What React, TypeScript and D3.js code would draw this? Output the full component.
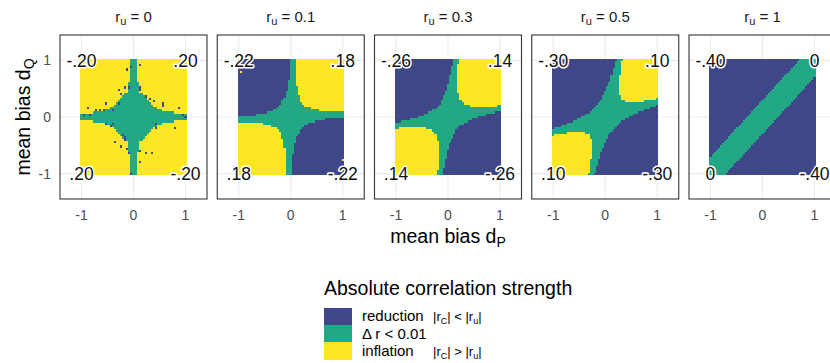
import { useEffect, useRef } from "react";
import * as d3 from "d3";

// facet values of r_u, one panel each
const ruLabels = ["0", "0.1", "0.3", "0.5", "1"];

// corner annotations: top-left, top-right, bottom-left, bottom-right
const cornerLabels = [
  ["-.20", ".20", ".20", "-.20"],
  ["-.22", ".18", ".18", "-.22"],
  ["-.26", ".14", ".14", "-.26"],
  ["-.30", ".10", ".10", "-.30"],
  ["-.40", "0", "0", "-.40"],
];

const axisTicks = [-1, 0, 1];

// tiles are 0.04 wide on a 51 x 51 grid, d_P from -1 (col 0) to 1 (col 50),
// d_Q from 1 (row 0) down to -1 (row 50).
// each entry: [how many rows, runs of columns] b = reduction, g = delta < .01, y = inflation
const rowsR0: [number, string][] = [
  [10, "24y 3g 24y"],
  [5, "23y 5g 23y"],
  [1, "21y 9g 21y"],
  [1, "20y 11g 20y"],
  [1, "19y 13g 19y"],
  [1, "18y 15g 18y"],
  [1, "17y 17g 17y"],
  [1, "16y 19g 16y"],
  [1, "14y 23g 14y"],
  [1, "12y 27g 12y"],
  [1, "6y 39g 6y"],
  [3, "51g"],
  [1, "6y 39g 6y"],
  [1, "12y 27g 12y"],
  [1, "14y 23g 14y"],
  [1, "16y 19g 16y"],
  [1, "17y 17g 17y"],
  [1, "18y 15g 18y"],
  [1, "19y 13g 19y"],
  [1, "20y 11g 20y"],
  [1, "21y 9g 21y"],
  [5, "23y 5g 23y"],
  [10, "24y 3g 24y"],
];

const rowsR01: [number, string][] = [
  [9, "25b 3g 23y"],
  [3, "24b 4g 23y"],
  [2, "24b 5g 22y"],
  [2, "23b 6g 22y"],
  [1, "23b 7g 21y"],
  [1, "22b 8g 21y"],
  [1, "21b 9g 21y"],
  [1, "21b 10g 20y"],
  [1, "20b 12g 19y"],
  [1, "19b 16g 16y"],
  [1, "17b 22g 12y"],
  [1, "14b 37g"],
  [1, "9b 42g"],
  [1, "51g"],
  [1, "42g 9b"],
  [1, "37g 14b"],
  [1, "12y 22g 17b"],
  [1, "16y 16g 19b"],
  [1, "19y 12g 20b"],
  [1, "20y 10g 21b"],
  [1, "21y 9g 21b"],
  [1, "21y 8g 22b"],
  [1, "21y 7g 23b"],
  [2, "22y 6g 23b"],
  [2, "22y 5g 24b"],
  [3, "23y 4g 24b"],
  [9, "23y 3g 25b"],
];

const rowsR03: [number, string][] = [
  [2, "28b 3g 20y"],
  [1, "28b 2g 21y"],
  [4, "27b 3g 21y"],
  [4, "26b 4g 21y"],
  [3, "25b 5g 21y"],
  [1, "24b 6g 21y"],
  [1, "24b 7g 20y"],
  [2, "23b 8g 20y"],
  [1, "22b 10g 19y"],
  [1, "22b 11g 18y"],
  [1, "21b 15g 13y 2g"],
  [1, "20b 31g"],
  [1, "18b 33g"],
  [1, "16b 32g 3b"],
  [1, "14b 30g 7b"],
  [1, "11b 29g 11b"],
  [1, "7b 30g 14b"],
  [1, "3b 32g 16b"],
  [1, "33g 18b"],
  [1, "31g 20b"],
  [1, "2g 13y 15g 21b"],
  [1, "18y 11g 22b"],
  [1, "19y 10g 22b"],
  [2, "20y 8g 23b"],
  [1, "20y 7g 24b"],
  [1, "21y 6g 24b"],
  [3, "21y 5g 25b"],
  [4, "21y 4g 26b"],
  [4, "21y 3g 27b"],
  [1, "21y 2g 28b"],
  [2, "20y 3g 28b"],
];

const rowsR05: [number, string][] = [
  [1, "31b 3g 17y"],
  [3, "30b 3g 18y"],
  [3, "29b 4g 18y"],
  [3, "28b 4g 19y"],
  [2, "27b 5g 19y"],
  [2, "26b 6g 19y"],
  [2, "25b 7g 19y"],
  [1, "24b 9g 18y"],
  [1, "24b 9g 17y 1g"],
  [1, "23b 12g 9y 7g"],
  [1, "22b 29g"],
  [1, "21b 29g 1b"],
  [1, "20b 27g 4b"],
  [1, "19b 25g 7b"],
  [1, "18b 23g 10b"],
  [1, "16b 23g 12b"],
  [1, "14b 23g 14b"],
  [1, "12b 23g 16b"],
  [1, "10b 23g 18b"],
  [1, "7b 25g 19b"],
  [1, "4b 27g 20b"],
  [1, "1b 29g 21b"],
  [1, "29g 22b"],
  [1, "7g 9y 12g 23b"],
  [1, "1g 17y 9g 24b"],
  [1, "18y 9g 24b"],
  [2, "19y 7g 25b"],
  [2, "19y 6g 26b"],
  [2, "19y 5g 27b"],
  [3, "19y 4g 28b"],
  [3, "18y 4g 29b"],
  [3, "18y 3g 30b"],
  [1, "17y 3g 31b"],
];

const rowsR1: [number, string][] = [
  [1, "43b 8g"], [1, "42b 9g"], [1, "41b 10g"], [1, "40b 11g"], [1, "39b 12g"],
  [1, "38b 13g"], [1, "37b 14g"], [1, "36b 15g"], [1, "35b 15g 1b"], [1, "34b 15g 2b"],
  [1, "33b 15g 3b"], [1, "32b 15g 4b"], [1, "31b 15g 5b"], [1, "30b 15g 6b"], [1, "29b 15g 7b"],
  [1, "28b 15g 8b"], [1, "27b 15g 9b"], [1, "26b 15g 10b"], [1, "25b 15g 11b"], [1, "24b 15g 12b"],
  [1, "23b 15g 13b"], [1, "22b 15g 14b"], [1, "21b 15g 15b"], [1, "20b 15g 16b"], [1, "19b 15g 17b"],
  [1, "18b 15g 18b"], [1, "17b 15g 19b"], [1, "16b 15g 20b"], [1, "15b 15g 21b"], [1, "14b 15g 22b"],
  [1, "13b 15g 23b"], [1, "12b 15g 24b"], [1, "11b 15g 25b"], [1, "10b 15g 26b"], [1, "9b 15g 27b"],
  [1, "8b 15g 28b"], [1, "7b 15g 29b"], [1, "6b 15g 30b"], [1, "5b 15g 31b"], [1, "4b 15g 32b"],
  [1, "3b 15g 33b"], [1, "2b 15g 34b"], [1, "1b 15g 35b"], [1, "15g 36b"], [1, "14g 37b"],
  [1, "13g 38b"], [1, "12g 39b"], [1, "11g 40b"], [1, "10g 41b"], [1, "9g 42b"],
  [1, "8g 43b"],
];

const panelRows = [rowsR0, rowsR01, rowsR03, rowsR05, rowsR1];

// single off tiles from the simulation: [panel, col, row, class]
const strayTiles: [number, number, number, string][] = [
  [0, 22, 4, "b"], [0, 24, 3, "b"], [0, 28, 2, "b"], [0, 28, 12, "b"], [0, 28, 13, "b"],
  [0, 18, 13, "b"], [0, 21, 12, "b"], [0, 23, 12, "b"], [0, 19, 15, "b"], [0, 31, 16, "b"],
  [0, 33, 17, "b"], [0, 35, 18, "b"], [0, 39, 19, "b"], [0, 39, 20, "b"], [0, 12, 19, "b"],
  [0, 18, 19, "b"], [0, 47, 21, "b"], [0, 3, 21, "b"], [0, 7, 22, "b"], [0, 9, 22, "b"],
  [0, 11, 22, "b"], [0, 15, 22, "b"], [0, 1, 24, "b"], [0, 4, 24, "b"], [0, 49, 24, "b"],
  [0, 50, 25, "b"], [0, 12, 28, "b"], [0, 14, 29, "b"], [0, 15, 28, "b"], [0, 36, 28, "b"],
  [0, 36, 30, "b"], [0, 45, 30, "b"], [0, 20, 33, "b"], [0, 21, 34, "b"], [0, 21, 35, "b"],
  [0, 16, 36, "b"], [0, 19, 38, "b"], [0, 22, 39, "b"], [0, 23, 41, "b"], [0, 28, 40, "b"],
  [0, 28, 45, "b"], [0, 31, 41, "b"], [0, 34, 41, "b"], [0, 24, 50, "b"],
  [1, 1, 5, "y"], [1, 50, 44, "y"], [1, 49, 48, "y"],
];

const classColors: Record<string, string> = {
  b: "#404788",
  g: "#22A884",
  y: "#FDE725",
};

const legendClasses = ["b", "g", "y"];

const FONT = "'Liberation Sans', Arial, Helvetica, sans-serif";

const App = () => {
  const svgRef = useRef<SVGSVGElement>(null);

  useEffect(() => {
    const width = 830,
      height = 363;
    const step = 0.04;
    const panelLeft = 60,
      panelStep = 157.25,
      panelW = 147,
      panelTop = 35,
      panelBottom = 199;

    d3.select(svgRef.current).selectAll("*").remove();
    const svg = d3
      .select(svgRef.current)
      .attr("width", width)
      .attr("height", height)
      .style("font-family", FONT);

    svg.append("rect").attr("width", width).attr("height", height).attr("fill", "#fff");

    const yScale = d3.scaleLinear().domain([-1.447, 1.447]).range([panelBottom, panelTop]);

    ruLabels.forEach((ru, i) => {
      const x0 = panelLeft + i * panelStep;
      const xScale = d3.scaleLinear().domain([-1.413, 1.413]).range([x0, x0 + panelW]);
      const g = svg.append("g");

      // grid lines
      axisTicks.forEach((t) => {
        g.append("line")
          .attr("x1", xScale(t)).attr("x2", xScale(t))
          .attr("y1", panelTop).attr("y2", panelBottom)
          .attr("stroke", "#EBEBEB").attr("stroke-width", 1.1);
        g.append("line")
          .attr("x1", x0).attr("x2", x0 + panelW)
          .attr("y1", yScale(t)).attr("y2", yScale(t))
          .attr("stroke", "#EBEBEB").attr("stroke-width", 1.1);
      });

      // expand the run strings into tiles
      const tiles: { row: number; start: number; len: number; k: string }[] = [];
      let row = 0;
      panelRows[i].forEach(([count, runs]) => {
        for (let r = 0; r < count; r++) {
          let col = 0;
          runs.split(" ").forEach((run) => {
            const len = parseInt(run, 10);
            const k = run.slice(-1);
            tiles.push({ row, start: col, len, k });
            col += len;
          });
          row++;
        }
      });
      strayTiles
        .filter((d) => d[0] === i)
        .forEach(([, col, r, k]) => tiles.push({ row: r, start: col, len: 1, k }));

      const left = (c: number) => xScale(-1 + c * step - step / 2);
      const top = (r: number) => yScale(1 - r * step + step / 2);

      g.selectAll("rect.tile")
        .data(tiles)
        .enter()
        .append("rect")
        .attr("class", "tile")
        .attr("x", (d) => left(d.start))
        .attr("width", (d) => left(d.start + d.len) - left(d.start))
        .attr("y", (d) => top(d.row))
        .attr("height", (d) => top(d.row + 1) - top(d.row))
        .attr("fill", (d) => classColors[d.k])
        .attr("shape-rendering", "crispEdges");

      // panel border
      g.append("rect")
        .attr("x", x0)
        .attr("y", panelTop)
        .attr("width", panelW)
        .attr("height", panelBottom - panelTop)
        .attr("fill", "none")
        .attr("stroke", "#333")
        .attr("stroke-width", 1.1);

      // corner values
      const corners: [number, number][] = [[-1, 1], [1, 1], [-1, -1], [1, -1]];
      corners.forEach(([cx, cy], j) => {
        g.append("text")
          .attr("x", xScale(cx))
          .attr("y", yScale(cy))
          .attr("dy", "0.36em")
          .attr("text-anchor", "middle")
          .attr("font-size", 17.5)
          .attr("fill", "#111")
          .attr("stroke", "#fff")
          .attr("stroke-width", 3)
          .attr("stroke-linejoin", "round")
          .attr("paint-order", "stroke")
          .text(cornerLabels[i][j]);
      });

      // facet title  r_u = ...
      const title = g.append("text")
        .attr("x", xScale(0))
        .attr("y", 22)
        .attr("text-anchor", "middle")
        .attr("font-size", 15)
        .attr("fill", "#1A1A1A")
        .style("white-space", "pre");
      title.append("tspan").text("r");
      title.append("tspan").attr("font-size", 11).attr("dy", 3).text("u");
      title.append("tspan").attr("dy", -3).text(` = ${ru}`);

      // x tick labels
      axisTicks.forEach((t) => {
        g.append("text")
          .attr("x", xScale(t))
          .attr("y", 219.5)
          .attr("text-anchor", "middle")
          .attr("font-size", 14)
          .attr("fill", "#4D4D4D")
          .text(String(t));
      });

      if (i === 0) {
        axisTicks.forEach((t) => {
          g.append("text")
            .attr("x", 51)
            .attr("y", yScale(t))
            .attr("dy", "0.36em")
            .attr("text-anchor", "end")
            .attr("font-size", 14)
            .attr("fill", "#4D4D4D")
            .text(String(t));
        });
      }
    });

    // axis titles
    const xTitle = svg.append("text")
      .attr("x", panelLeft + 2 * panelStep + panelW / 2)
      .attr("y", 243)
      .attr("text-anchor", "middle")
      .attr("font-size", 19.5)
      .attr("fill", "#000");
    xTitle.append("tspan").text("mean bias d");
    xTitle.append("tspan").attr("font-size", 14).attr("dy", 4).text("P");

    const yTitle = svg.append("text")
      .attr("transform", `translate(30, ${(panelTop + panelBottom) / 2}) rotate(-90)`)
      .attr("text-anchor", "middle")
      .attr("font-size", 19.5)
      .attr("fill", "#000");
    yTitle.append("tspan").text("mean bias d");
    yTitle.append("tspan").attr("font-size", 14).attr("dy", 4).text("Q");

    // legend
    svg.append("text")
      .attr("x", 324)
      .attr("y", 295)
      .attr("font-size", 19.5)
      .attr("fill", "#000")
      .text("Absolute correlation strength");

    const keyTop = 307.5,
      keyH = 17.4;
    legendClasses.forEach((k, j) => {
      svg.append("rect")
        .attr("x", 324)
        .attr("y", keyTop + j * keyH)
        .attr("width", 28)
        .attr("height", keyH)
        .attr("fill", classColors[k])
        .attr("shape-rendering", "crispEdges");
    });

    const ly = (j: number) => keyTop + j * keyH + keyH / 2 + 5;

    svg.append("text").attr("x", 362).attr("y", ly(0)).attr("font-size", 15).text("reduction");
    svg.append("text").attr("x", 362).attr("y", ly(1)).attr("font-size", 15)
      .style("white-space", "pre").text("\u0394 r < 0.01");
    svg.append("text").attr("x", 362).attr("y", ly(2)).attr("font-size", 15).text("inflation");

    [0, 2].forEach((j) => {
      const t = svg.append("text")
        .attr("x", 433)
        .attr("y", ly(j))
        .attr("font-size", 13)
        .style("white-space", "pre");
      t.append("tspan").text("|r");
      t.append("tspan").attr("font-size", 9).attr("dy", 3).text("C");
      t.append("tspan").attr("dy", -3).text(j === 0 ? "| < |r" : "| > |r");
      t.append("tspan").attr("font-size", 9).attr("dy", 3).text("u");
      t.append("tspan").attr("dy", -3).text("|");
    });
  }, []);

  return (
    <div style={{ position: "absolute", left: 0, top: 0 }}>
      <svg ref={svgRef} width={830} height={363} style={{ display: "block" }}></svg>
    </div>
  );
};

export default App;
